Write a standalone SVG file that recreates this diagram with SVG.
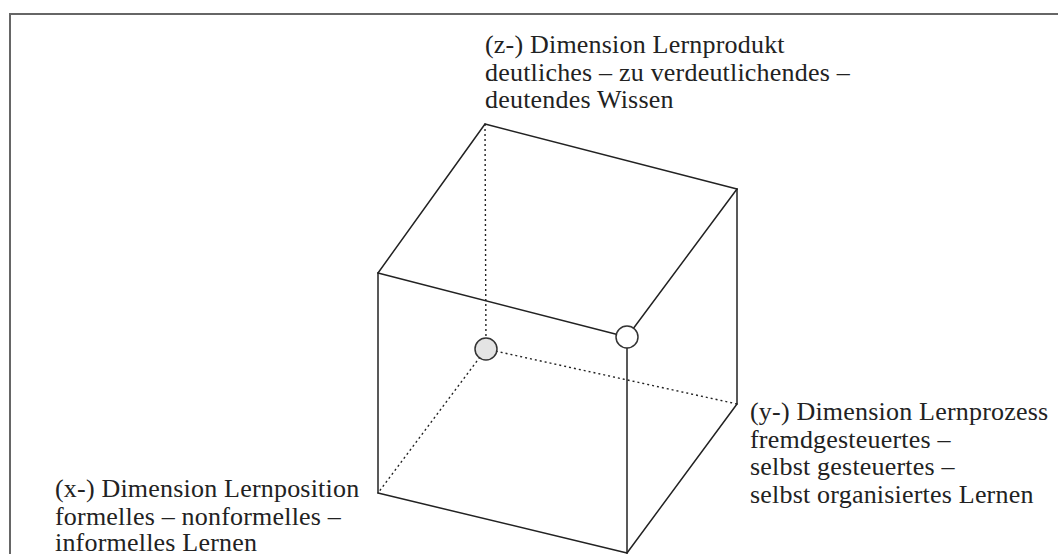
<svg xmlns="http://www.w3.org/2000/svg" width="1058" height="554" viewBox="0 0 1058 554">
<style>
.edge{stroke:#222;stroke-width:1.5;fill:none;stroke-linecap:round}
.hidden{stroke:#222;stroke-width:1.4;fill:none;stroke-dasharray:2 3}
.lbl{font-family:"Liberation Serif","Times New Roman",serif;font-size:26px;fill:#222;letter-spacing:0.2px}
.pt{stroke:#333;stroke-width:1.5}
</style>
<rect width="1058" height="554" fill="#fff"/>
<path d="M10,554 V14 H1058" fill="none" stroke="#666" stroke-width="2"/>
<g id="connectors">
<path class="edge" d="M485,124 L737,189"/>
<path class="edge" d="M485,124 L378,273"/>
<path class="edge" d="M737,189 L627,337"/>
<path class="edge" d="M378,273 L627,337"/>
<path class="edge" d="M378,273 L378,493"/>
<path class="edge" d="M378,493 L627,553"/>
<path class="edge" d="M627,337 L627,553"/>
<path class="edge" d="M737,189 L737,404"/>
<path class="edge" d="M737,404 L627,553"/>
<path class="hidden" d="M485,124 L486,349"/>
<path class="hidden" d="M486,349 L378,493"/>
<path class="hidden" d="M486,349 L737,404"/>
</g>
<g id="origin"><circle class="pt" cx="486" cy="349" r="11" fill="#e4e4e4"/></g>
<g id="corner"><circle class="pt" cx="627" cy="337" r="11" fill="#fff"/></g>
<g id="z-label">
<text class="lbl" x="485" y="53">(z-) Dimension Lernprodukt</text>
<text class="lbl" x="485" y="81">deutliches – zu verdeutlichendes –</text>
<text class="lbl" x="485" y="108">deutendes Wissen</text>
</g>
<g id="y-label">
<text class="lbl" x="750" y="420">(y-) Dimension Lernprozess</text>
<text class="lbl" x="750" y="448">fremdgesteuertes –</text>
<text class="lbl" x="750" y="475">selbst gesteuertes –</text>
<text class="lbl" x="750" y="503">selbst organisiertes Lernen</text>
</g>
<g id="x-label">
<text class="lbl" x="55" y="497">(x-) Dimension Lernposition</text>
<text class="lbl" x="55" y="525">formelles – nonformelles –</text>
<text class="lbl" x="55" y="551">informelles Lernen</text>
</g>
</svg>
